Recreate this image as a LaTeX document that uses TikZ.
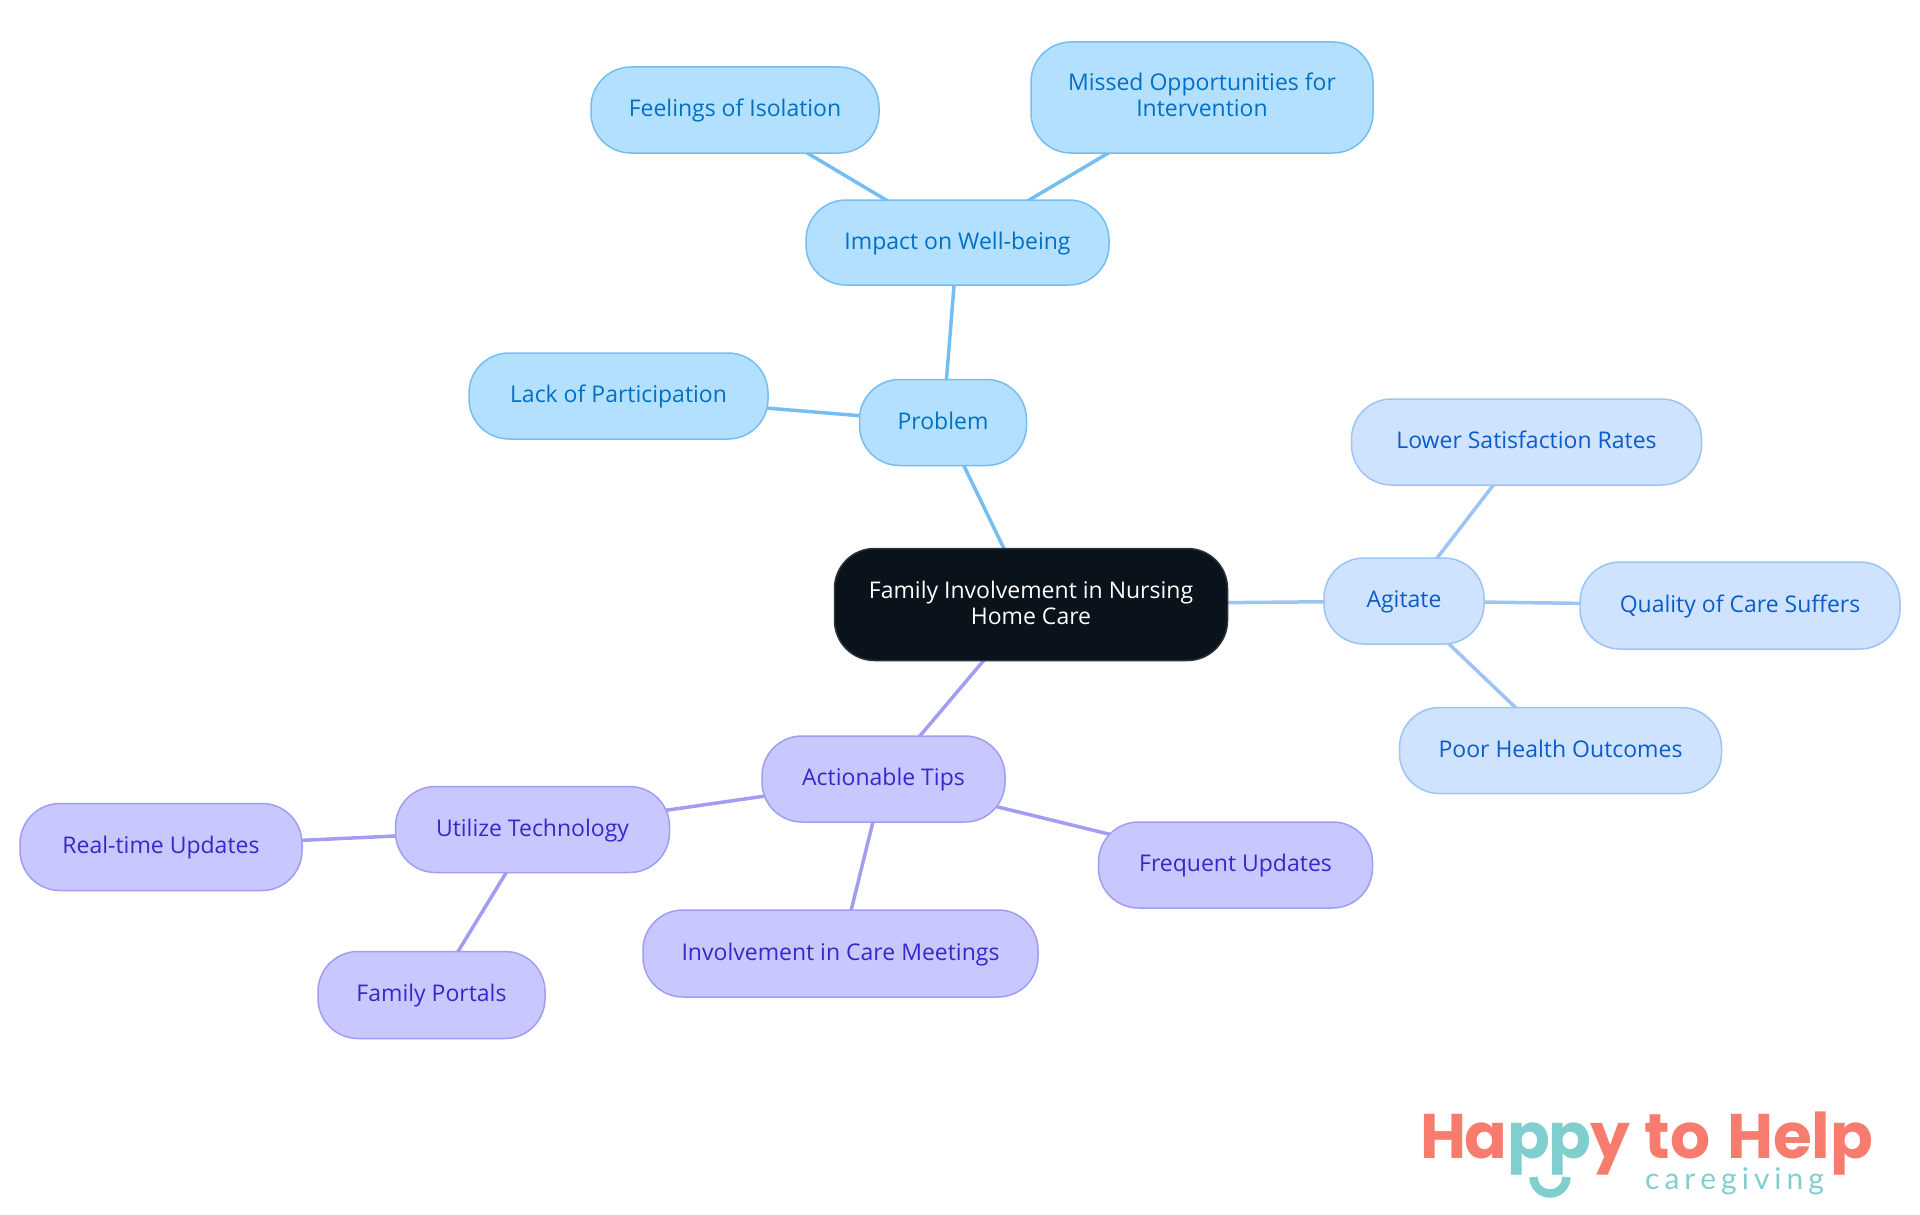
\documentclass[tikz,border=0pt]{standalone}
\usepackage{fontspec}
\setmainfont{Open Sans}
\newfontfamily\logofont{Poppins}
\newfontfamily\logolight{Lato}
\usepackage{tikz}
\usetikzlibrary{backgrounds}
\definecolor{rootfill}{HTML}{0A121C}
\definecolor{rootline}{HTML}{2B323B}
\definecolor{problemfill}{HTML}{B3E0FF}
\definecolor{problemline}{HTML}{74BEF2}
\definecolor{problemtext}{HTML}{0070C4}
\definecolor{agitatefill}{HTML}{CFE3FF}
\definecolor{agitateline}{HTML}{9CC4F5}
\definecolor{agitatetext}{HTML}{0A5CCC}
\definecolor{tipsfill}{HTML}{C8C8FF}
\definecolor{tipsline}{HTML}{A09DF2}
\definecolor{tipstext}{HTML}{3A26C9}
\definecolor{logocoral}{HTML}{F87C6D}
\definecolor{logoteal}{HTML}{80CFCE}
\newcommand{\mapstrut}{\rule[-6.5pt]{0pt}{26pt}}
\tikzset{
  mapbox/.style={rounded corners=40pt,line width=1.5pt,inner sep=0pt,align=center,
    font=\fontsize{23}{26}\selectfont,
    execute at begin node=\mapstrut},
  rootbox/.style={mapbox,fill=rootfill,draw=rootline,text=white},
  problembox/.style={mapbox,fill=problemfill,draw=problemline,text=problemtext},
  agitatebox/.style={mapbox,fill=agitatefill,draw=agitateline,text=agitatetext},
  tipsbox/.style={mapbox,fill=tipsfill,draw=tipsline,text=tipstext},
}
\begin{document}
\begin{tikzpicture}[x=1pt,y=-1pt]
    \useasboundingbox (0,0) rectangle (1920,1215);
    \node[rootbox,minimum width=393pt,minimum height=112pt] (root) at (1031,604.5) {\mapstrut Family Involvement in Nursing\\\mapstrut Home Care};
    \node[problembox,minimum width=167pt,minimum height=86pt] (problem) at (943,422.5) {Problem};
    \node[problembox,minimum width=303pt,minimum height=85pt] (impact) at (957.5,242.5) {Impact on Well-being};
    \node[problembox,minimum width=288pt,minimum height=86pt] (feelings) at (735,110) {Feelings of Isolation};
    \node[problembox,minimum width=342pt,minimum height=111pt] (missed) at (1202,97.5) {\mapstrut Missed Opportunities for\\\mapstrut Intervention};
    \node[problembox,minimum width=299pt,minimum height=86pt] (lack) at (618.5,396) {Lack of Participation};
    \node[agitatebox,minimum width=160pt,minimum height=86pt] (agitate) at (1404,601) {Agitate};
    \node[agitatebox,minimum width=350pt,minimum height=86pt] (lower) at (1526.5,442) {Lower Satisfaction Rates};
    \node[agitatebox,minimum width=320pt,minimum height=87pt] (quality) at (1740,605.5) {Quality of Care Suffers};
    \node[agitatebox,minimum width=322pt,minimum height=86pt] (poor) at (1560.5,750.5) {Poor Health Outcomes};
    \node[tipsbox,minimum width=243pt,minimum height=86pt] (tips) at (883.5,779) {Actionable Tips};
    \node[tipsbox,minimum width=274pt,minimum height=86pt] (utilize) at (532.5,829.5) {Utilize Technology};
    \node[tipsbox,minimum width=282pt,minimum height=87pt] (realtime) at (161,847) {Real-time Updates};
    \node[tipsbox,minimum width=227pt,minimum height=87pt] (portals) at (431.5,995) {Family Portals};
    \node[tipsbox,minimum width=395pt,minimum height=87pt] (meetings) at (840.5,953.5) {Involvement in Care Meetings};
    \node[tipsbox,minimum width=274pt,minimum height=86pt] (frequent) at (1235.5,865) {Frequent Updates};
    % logo
    \node[anchor=base west,inner sep=0pt,font=\logofont\bfseries\fontsize{63}{63}\selectfont,text=logocoral] (happy) at (1420,1158)
      {{\addfontfeatures{LetterSpace=-3}Ha\textcolor{logoteal}{pp}y} \hspace{1pt}to \hspace{3pt}Help};
    \node[anchor=base west,inner sep=0pt,font=\logolight\fontsize{30}{30}\selectfont,text=logoteal] (caregiving) at (1645,1189)
      {c\,a\,r\,e\,g\,i\,v\,i\,n\,g};
    \draw[logoteal,line width=8.5pt] (1533.5,1177) arc[start angle=180,end angle=0,radius=16.5];
    \begin{scope}[on background layer]
      \path[line width=3.5pt]
        (root.center) edge[problemline] (problem.center)
        (problem.center) edge[problemline] (impact.center)
        (problem.center) edge[problemline] (lack.center)
        (impact.center) edge[problemline] (feelings.center)
        (impact.center) edge[problemline] (missed.center)
        (root.center) edge[agitateline] (agitate.center)
        (agitate.center) edge[agitateline] (lower.center)
        (agitate.center) edge[agitateline] (quality.center)
        (agitate.center) edge[agitateline] (poor.center)
        (root.center) edge[tipsline] (tips.center)
        (tips.center) edge[tipsline] (utilize.center)
        (tips.center) edge[tipsline] (meetings.center)
        (tips.center) edge[tipsline] (frequent.center)
        (utilize.center) edge[tipsline] (realtime.center)
        (utilize.center) edge[tipsline] (portals.center);
    \end{scope}
\end{tikzpicture}
\end{document}
